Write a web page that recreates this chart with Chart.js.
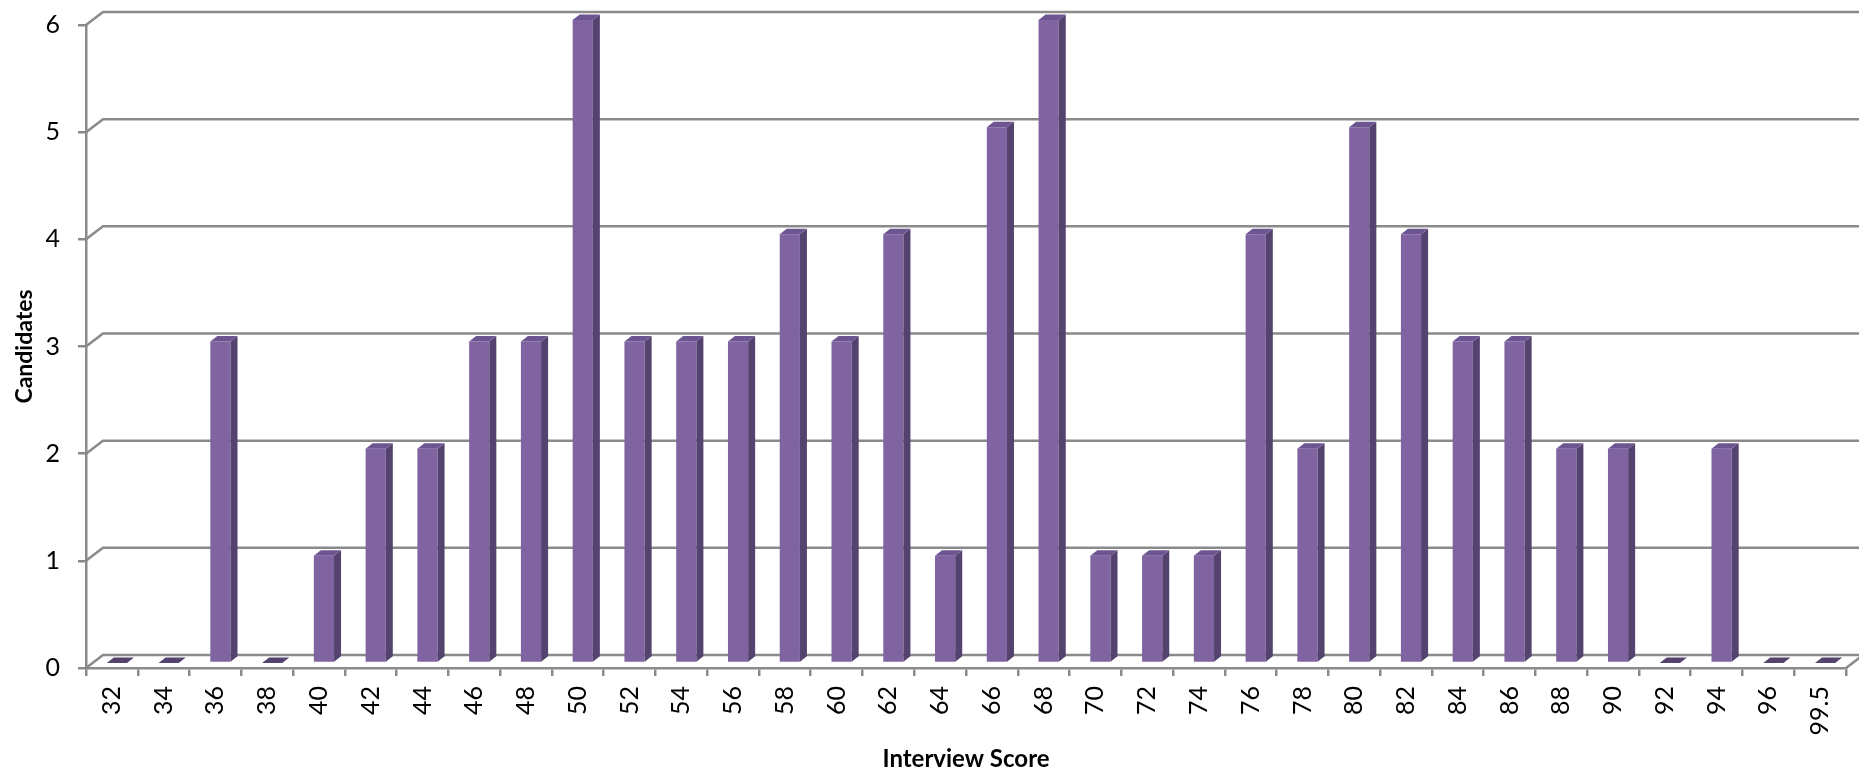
<!DOCTYPE html>
<html>
<head>
<meta charset="utf-8">
<script src="https://cdn.jsdelivr.net/npm/chart.js@4.4.1/dist/chart.umd.min.js"></script>
<style>
html,body{margin:0;padding:0;background:#fff;}
#wrap{width:1859px;height:769px;position:relative;}
</style>
</head>
<body>
<div id="wrap"><canvas id="c" width="1859" height="769"></canvas></div>
<script>
const categories = ['32','34','36','38','40','42','44','46','48','50','52','54','56','58','60','62','64','66','68','70','72','74','76','78','80','82','84','86','88','90','92','94','96','99.5'];
const candidates = [0,0,3,0,1,2,2,3,3,6,3,3,3,4,3,4,1,5,6,1,1,1,4,2,5,4,3,3,2,2,0,2,0,0];
const yTicks = [0,1,2,3,4,5,6];
const xTitle = 'Interview Score';
const yTitle = 'Candidates';

const FONT = 'Lato, "Open Sans", sans-serif';
const GRID = '#8a8a8a';
const FRONT = '#8064A2';
const SIDE = '#54426f';
const TOP = '#6d5591';
const WALL_DX = 17, WALL_DY = -13;
const BAR_SHIFT_X = 5, BAR_SHIFT_Y = -5;
const BAR_DX = 7, BAR_DY = -5.5;

const wallPlugin = {
  id: 'wall',
  beforeDatasetsDraw(chart) {
    const ctx = chart.ctx, y = chart.scales.y, a = chart.chartArea;
    ctx.save();
    ctx.strokeStyle = GRID;
    ctx.lineWidth = 2.5;
    yTicks.forEach(v => {
      const yf = y.getPixelForValue(v);
      ctx.beginPath();
      ctx.moveTo(a.left, yf);
      ctx.lineTo(a.left + WALL_DX, yf + WALL_DY);
      ctx.lineTo(chart.width + 5, yf + WALL_DY);
      ctx.stroke();
    });
    ctx.beginPath();
    ctx.moveTo(a.right, a.bottom);
    ctx.lineTo(a.right + WALL_DX, a.bottom + WALL_DY);
    ctx.stroke();
    ctx.restore();
    ctx.save();
    ctx.translate(BAR_SHIFT_X, BAR_SHIFT_Y);
  },
  afterDatasetsDraw(chart) {
    const ctx = chart.ctx;
    const meta = chart.getDatasetMeta(0);
    meta.data.forEach(bar => {
      const p = bar.getProps(['x','y','base','width'], true);
      const l = p.x - p.width/2, r = p.x + p.width/2;
      ctx.fillStyle = SIDE;
      ctx.beginPath();
      ctx.moveTo(r, p.y);
      ctx.lineTo(r + BAR_DX, p.y + BAR_DY);
      ctx.lineTo(r + BAR_DX, p.base + BAR_DY);
      ctx.lineTo(r, p.base);
      ctx.closePath();
      ctx.fill();
      ctx.fillStyle = (p.base - p.y) < 0.5 ? SIDE : TOP;
      ctx.beginPath();
      ctx.moveTo(l, p.y);
      ctx.lineTo(r, p.y);
      ctx.lineTo(r + BAR_DX, p.y + BAR_DY);
      ctx.lineTo(l + BAR_DX, p.y + BAR_DY);
      ctx.closePath();
      ctx.fill();
    });
    ctx.restore();
  }
};

new Chart(document.getElementById('c'), {
  type: 'bar',
  data: {
    labels: categories,
    datasets: [{
      data: candidates,
      backgroundColor: FRONT,
      borderWidth: 0,
      categoryPercentage: 1,
      barPercentage: 0.39
    }]
  },
  options: {
    responsive: false,
    animation: false,
    devicePixelRatio: 1,
    layout: { padding: { top: 25, right: 13, left: 0, bottom: 0 } },
    plugins: { legend: { display: false }, tooltip: { enabled: false } },
    scales: {
      x: {
        grid: { drawOnChartArea: false, drawTicks: true, tickLength: 8, color: GRID, lineWidth: 2.5, offset: true },
        border: { display: true, color: GRID, width: 2.5 },
        ticks: { autoSkip: false, minRotation: 90, maxRotation: 90, padding: 10, color: '#000', font: { family: FONT, size: 25 } },
        title: { display: true, text: xTitle, color: '#000', font: { family: FONT, size: 24, weight: 'bold', lineHeight: 0.8 }, padding: 0 },
        afterFit(s) { s.height = 101; s.paddingLeft = 0; s.paddingRight = 0; }
      },
      y: {
        min: 0, max: 6,
        afterBuildTicks(s) { s.ticks = yTicks.map(v => ({ value: v })); },
        grid: { drawOnChartArea: false, drawTicks: true, tickLength: 8, color: GRID, lineWidth: 2.5 },
        border: { display: true, color: GRID, width: 2.5 },
        ticks: { padding: 18, color: '#000', font: { family: FONT, size: 25 } },
        title: { display: true, text: yTitle, color: '#000', font: { family: FONT, size: 23, weight: 'bold' }, padding: { top: 11, bottom: 0 } },
        afterFit(s) { s.width = 86; s.paddingTop = 0; s.paddingBottom = 0; }
      }
    }
  },
  plugins: [wallPlugin]
});
</script>
</body>
</html>
